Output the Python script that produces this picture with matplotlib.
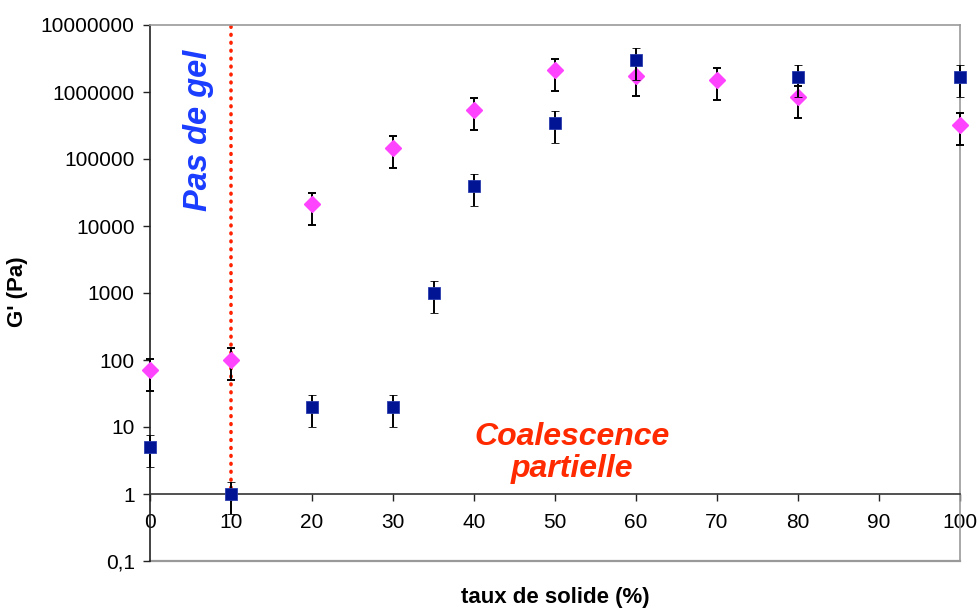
import matplotlib
matplotlib.use("Agg")
import matplotlib.pyplot as plt
import numpy as np

plt.rcParams['font.family'] = ['Liberation Sans', 'DejaVu Sans']

x_sq = [0, 10, 20, 30, 35, 40, 50, 60, 80, 100]
g_sq = [5, 1, 20, 20, 1000, 40000, 350000, 3000000, 1700000, 1700000]
x_di = [0, 10, 20, 30, 40, 50, 60, 70, 80, 100]
g_di = [70, 100, 21000, 146000, 540000, 2100000, 1750000, 1500000, 830000, 320000]
ytick_vals = [0.1, 1, 10, 100, 1000, 10000, 100000, 1000000, 10000000]
ytick_labels = ['0,1', '1', '10', '100', '1000', '10000', '100000', '1000000', '10000000']
xtick_vals = list(range(0, 101, 10))

fig = plt.figure(figsize=(9.77, 6.09), dpi=100)
ax = fig.add_axes([150/977, 1-561/609, 810/977, 536/609])
ax.set_yscale('log')
ax.set_xlim(0, 100)
ax.set_ylim(0.1, 1e7)

g_sq_a = np.array(g_sq, float)
g_di_a = np.array(g_di, float)
ax.errorbar(x_di, g_di_a, yerr=0.5*g_di_a, fmt='D', color='#ff44ff', ms=8.5,
            mec='#ff44ff', ecolor='black', elinewidth=1.4, capsize=3, capthick=1.4,
            clip_on=False, zorder=3)
ax.errorbar(x_sq, g_sq_a, yerr=0.5*g_sq_a, fmt='s', color='#001494', ms=8,
            mec='#2a3cae', mew=0.6, ecolor='black', elinewidth=1.4, capsize=3, capthick=1.4,
            clip_on=False, zorder=4)

# dotted vertical line
ax.plot([10, 10], [1.25, 1e7], color='#ff2200', ls=(0, (0.2, 2.0)), lw=2.6,
        dash_capstyle='round', zorder=2)

for s in ['top', 'right']:
    ax.spines[s].set_color('#999999')
    ax.spines[s].set_linewidth(1.2)
ax.spines['left'].set_color('#222222')
ax.spines['left'].set_linewidth(1.2)
ax.spines['bottom'].set_position(('data', 1))
ax.spines['bottom'].set_color('#333333')
ax.spines['bottom'].set_linewidth(1.2)
ax.axhline(0.1, color='#999999', lw=1.6, clip_on=False, zorder=1)

ax.set_yticks(ytick_vals)
ax.set_yticklabels(ytick_labels)
ax.yaxis.set_minor_locator(matplotlib.ticker.NullLocator())
ax.set_xticks(xtick_vals)
ax.set_xticklabels([str(v) for v in xtick_vals])
ax.tick_params(axis='both', labelsize=15, direction='out', length=5, width=1, color='#222222')
ax.tick_params(axis='y', pad=6)
ax.tick_params(axis='x', pad=9)

fig.text(555/977, 1-598/609, 'taux de solide (%)', ha='center', va='center',
         fontsize=16, fontweight='bold')
fig.text(18/977, 1-292/609, "G' (Pa)", ha='center', va='center', rotation=90,
         fontsize=16, fontweight='bold')

fig.text(198/977, 1-130/609, 'Pas de gel', ha='center', va='center', rotation=90,
         color='#1a3cff', fontsize=23.5, fontweight='bold', style='italic')
fig.text(572/977, 1-453/609, 'Coalescence\npartielle', ha='center', va='center',
         color='#ff2a00', fontsize=23, fontweight='bold', style='italic', linespacing=1.05)

fig.savefig('out.png', dpi=100)
